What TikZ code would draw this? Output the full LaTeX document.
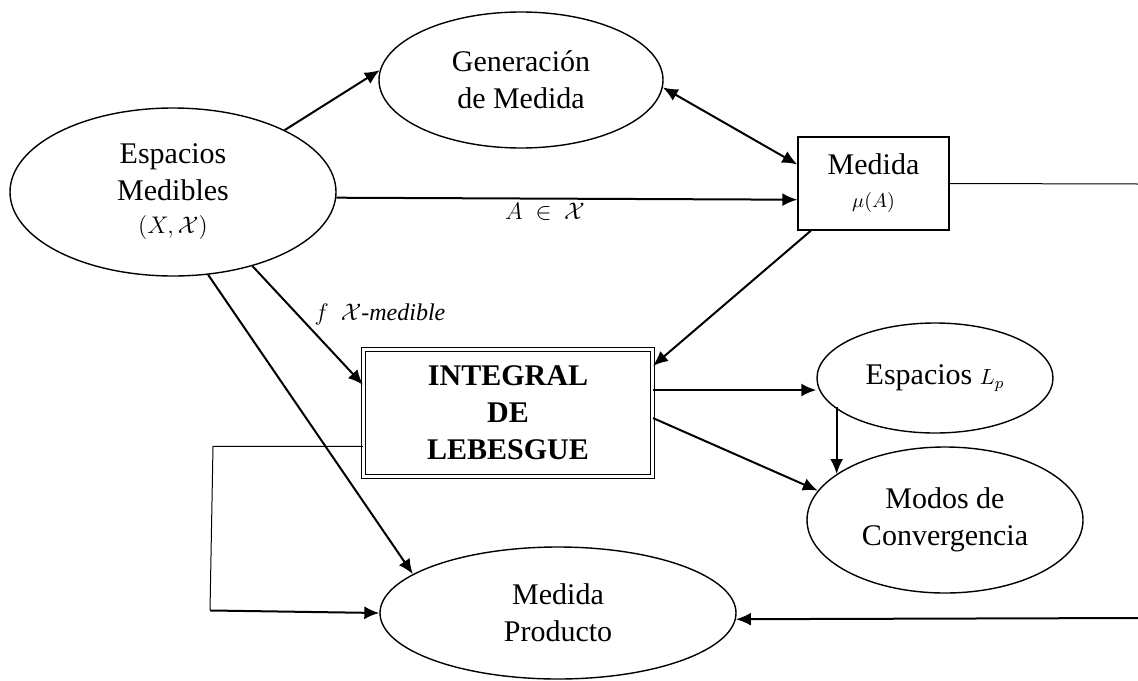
\documentclass[tikz,border=0pt]{standalone}
\usepackage{fontspec}
\setmainfont{Liberation Serif}
\usetikzlibrary{shapes.geometric,arrows.meta}
\begin{document}
\begin{tikzpicture}[x=0.5pt,y=-0.5pt,
  ell/.style={ellipse,draw,line width=0.7pt,inner sep=0pt,align=center,font=\fontsize{15}{18.5}\selectfont},
  boxnode/.style={rectangle,draw,line width=0.7pt,inner sep=0pt,align=center,font=\fontsize{15}{18.5}\selectfont},
  dblbox/.style={rectangle,draw,double,double distance=1.5pt,line width=0.5pt,inner sep=0pt,align=center,font=\fontsize{15}{18.5}\selectfont\bfseries},
  arr/.style={line width=1pt,-{Latex[length=7.5pt,width=6.5pt]}},
  dblarr/.style={line width=1pt,{Latex[length=7.5pt,width=6.5pt]}-{Latex[length=7.5pt,width=6.5pt]}},
  thinline/.style={line width=0.5pt},
  lbl/.style={font=\fontsize{12}{14}\selectfont,inner sep=0pt}
]
\useasboundingbox (0,0) rectangle (1138,680);

\node[ell,minimum width=163pt,minimum height=84pt] (E) at (173,192)
  {Espacios\\Medibles\\[-2pt]{\fontsize{12.5}{14}\selectfont$(X,\mathcal{X})$}};
\node[ell,minimum width=142pt,minimum height=68pt] (G) at (521,80) {Generación\\de Medida};
\node[boxnode,minimum width=75.5pt,minimum height=46.5pt] (M) at (873.5,183.5)
  {Medida\\[-2pt]{\fontsize{10}{12}\selectfont$\mu(A)$}};
\node[dblbox,minimum width=144.5pt,minimum height=63.5pt] (I) at (508,413) {INTEGRAL\\DE\\LEBESGUE};
\node[ell,minimum width=118pt,minimum height=55pt] (L) at (935,378)
  {Espacios {\fontsize{11}{13}\selectfont$L_p$}};
\node[ell,minimum width=138pt,minimum height=73pt] (Mo) at (945,520) {Modos de\\Convergencia};
\node[ell,minimum width=178pt,minimum height=66pt] (P) at (558,613) {Medida\\Producto};

\node[lbl] (la) at (545,212) {$A\ \in\ \mathcal{X}$};
\node[lbl] (lf) at (380,314) {$f$\ \ $\mathcal{X}$-\textit{medible}};

\coordinate (r0) at (1138,184);
\coordinate (r1) at (1138,618);

\draw[arr] (E.29) -- (G.176);
\draw[dblarr] (G.-3) -- (M.166);
\draw[arr] (E.-2) -- (M.192);
\draw[arr] (M.217) -- (I.18);
\draw[arr] (E.-43) -- (I.169);
\draw[arr] (E.-67) -- (P.165);
\draw[arr] (I.9.6) -- (L.west |- I.9.6);
\draw[arr] (I.-2.3) -- (Mo.167.7);
\draw[arr] (Mo.157.7 |- L.196.7) -- (Mo.157.7);
\draw[thinline] (I.193) -- ++(-150,0) -- ++(-3,164) coordinate (k1);
\draw[arr] (k1) -- (P.180);
\draw[thinline] (M.east) -- (r0);
\draw[arr] (r1) -- (P.-2);
\end{tikzpicture}
\end{document}
